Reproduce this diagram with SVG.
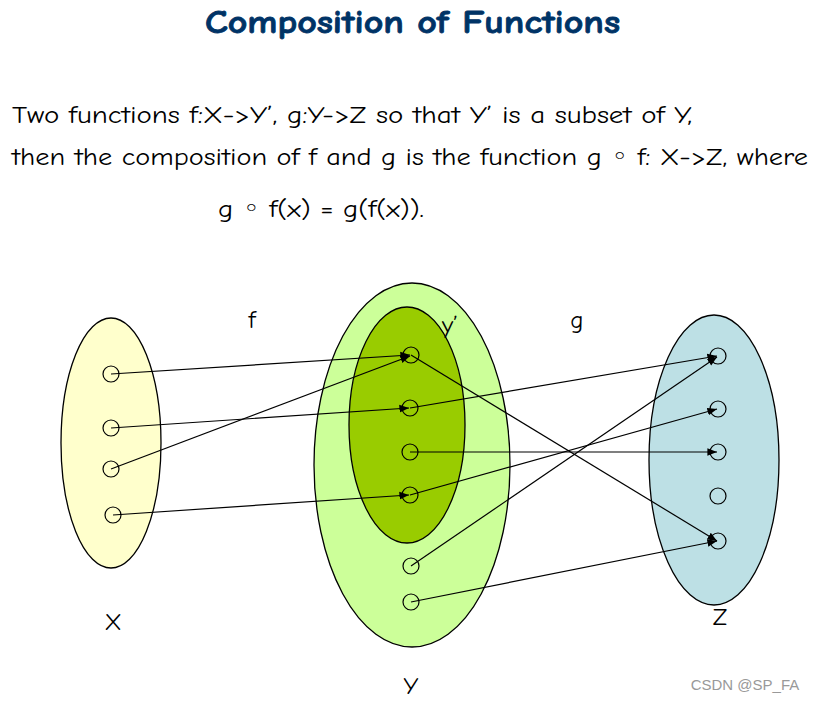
<svg xmlns="http://www.w3.org/2000/svg" width="820" height="703" viewBox="0 0 820 703">
<style>
.t{font-family:"Comic Neue","Open Sans","DejaVu Sans",sans-serif;fill:#000}
.d{fill:none;stroke:#000;stroke-width:1.3}
.c{fill:none;stroke:#000;stroke-width:1.2}
.l{stroke:#000;stroke-width:1.2;marker-end:url(#a)}
</style>
<defs><marker id="a" viewBox="0 0 10 10" refX="10" refY="5" markerWidth="8" markerHeight="8" orient="auto"><path d="M0,1L10,5L0,9z" fill="#000"/></marker></defs>
<rect width="820" height="703" fill="#fff"/>
<text x="205" y="33" textLength="415" lengthAdjust="spacingAndGlyphs" class="t" style="font-size:32px;font-weight:900;fill:#003366;stroke:#003366;stroke-width:0.8">Composition of Functions</text>
<text x="12" y="123" textLength="680" lengthAdjust="spacingAndGlyphs" class="t" font-size="25">Two functions f:X-&gt;Y’, g:Y-&gt;Z so that Y’ is a subset of Y,</text>
<text x="12" y="165" textLength="796" lengthAdjust="spacingAndGlyphs" class="t" font-size="25">then the composition of f and g is the function g ◦ f: X-&gt;Z, where</text>
<text x="218" y="217" textLength="206" lengthAdjust="spacingAndGlyphs" class="t" font-size="25">g ◦ f(x) = g(f(x)).</text>
<g id="X"><ellipse cx="111" cy="443" rx="50" ry="125" class="d" style="fill:#ffffcc"/>
<circle cx="111" cy="374" r="8" class="c"/><circle cx="111" cy="428" r="8" class="c"/><circle cx="111" cy="469" r="8" class="c"/><circle cx="113" cy="515" r="8" class="c"/></g>
<g id="Y"><ellipse cx="412" cy="465" rx="98" ry="182" class="d" style="fill:#ccff99"/>
<circle cx="411" cy="566" r="8" class="c"/><circle cx="411" cy="602" r="8" class="c"/></g>
<g id="Yp"><ellipse cx="407" cy="425" rx="58" ry="118" class="d" style="fill:#99cc00"/>
<circle cx="411" cy="355" r="8" class="c"/><circle cx="410" cy="408" r="8" class="c"/><circle cx="410" cy="452" r="8" class="c"/><circle cx="410" cy="495" r="8" class="c"/></g>
<g id="Z"><ellipse cx="714" cy="460" rx="65" ry="145" class="d" style="fill:#bde0e5"/>
<circle cx="718" cy="356" r="8" class="c"/><circle cx="718" cy="409" r="8" class="c"/><circle cx="718" cy="452" r="8" class="c"/><circle cx="718" cy="496" r="8" class="c"/><circle cx="718" cy="541" r="8" class="c"/></g>
<g id="edges">
<line x1="111" y1="374" x2="410" y2="355" class="l"/>
<line x1="111" y1="428" x2="409" y2="408" class="l"/>
<line x1="111" y1="469" x2="410" y2="356" class="l"/>
<line x1="113" y1="515" x2="409" y2="495" class="l"/>
<line x1="411" y1="355" x2="717" y2="541" class="l"/>
<line x1="410" y1="408" x2="717" y2="356" class="l"/>
<line x1="410" y1="452" x2="717" y2="452" class="l"/>
<line x1="410" y1="495" x2="717" y2="409" class="l"/>
<line x1="411" y1="566" x2="717" y2="357" class="l"/>
<line x1="411" y1="602" x2="717" y2="541" class="l"/>
</g>
<text x="252" y="328" class="t" font-size="25" text-anchor="middle">f</text>
<text x="450" y="333" class="t" font-size="25" text-anchor="middle">y’</text>
<text x="577" y="328" class="t" font-size="25" text-anchor="middle">g</text>
<text x="113" y="630" class="t" font-size="25" text-anchor="middle">X</text>
<text x="720" y="625" class="t" font-size="25" text-anchor="middle">Z</text>
<text x="411" y="694" class="t" font-size="25" text-anchor="middle">Y</text>
<text x="745" y="690" font-family="Liberation Sans,sans-serif" font-size="15" fill="#999" text-anchor="middle">CSDN @SP_FA</text>
</svg>
